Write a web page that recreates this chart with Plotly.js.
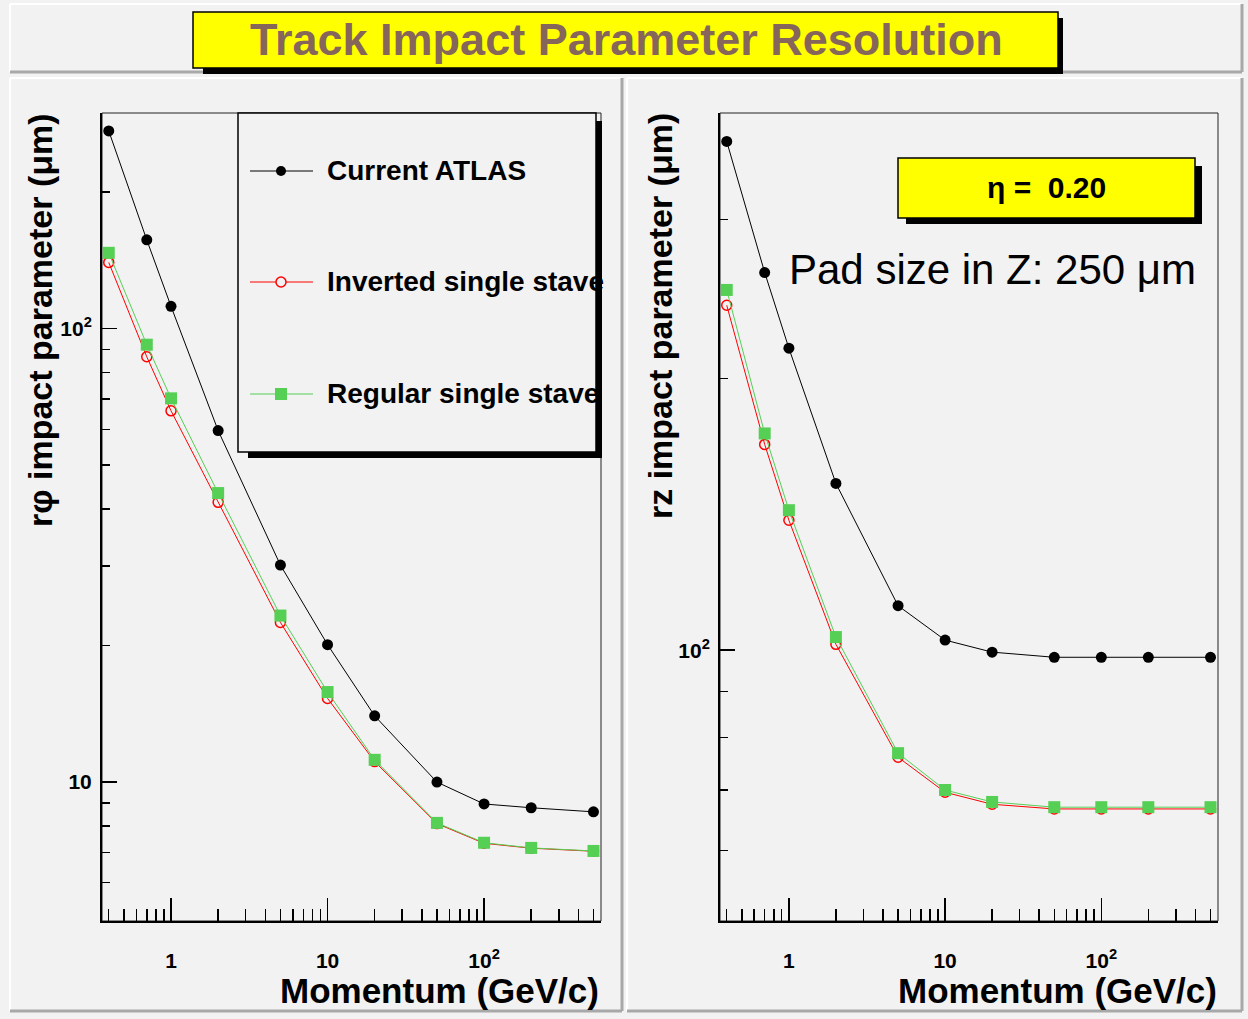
<!DOCTYPE html>
<html>
<head>
<meta charset="utf-8">
<script src="https://cdn.plot.ly/plotly-3.0.1.min.js"></script>
<style>html,body{margin:0;padding:0;background:#f2f2f2;}#chart{width:1248px;height:1019px;}</style>
</head>
<body>
<div id="chart"></div>
<script>
// ---- data ----
const momentum = [0.4, 0.7, 1, 2, 5, 10, 20, 50, 100, 200, 500];
const rphiCurrent  = [273, 157, 112, 59.6, 30.1, 20.1, 14.0, 10.0, 8.95, 8.78, 8.6];
const rphiInverted = [140, 86.7, 65.9, 41.4, 22.5, 15.3, 11.1, 8.1, 7.33, 7.15, 7.04];
const rphiRegular  = [147, 92.2, 70.2, 43.4, 23.3, 15.8, 11.2, 8.13, 7.35, 7.16, 7.05];
const rzCurrent  = [366, 262, 216, 153, 112, 102.6, 99.5, 98.2, 98.2, 98.2, 98.2];
const rzInverted = [241, 169, 139.3, 101.5, 76.1, 69.6, 67.5, 66.7, 66.7, 66.7, 66.7];
const rzRegular  = [250.6, 173.8, 142.9, 103.4, 76.9, 70.0, 67.9, 67.0, 67.0, 67.0, 67.0];
const seriesNames = ["Current ATLAS", "Inverted single stave", "Regular single stave"];
const xTickVals = [1, 10, 100];
const xTickText = ["1", "10", "10<sup>2</sup>"];
const xMinorVals = [0.4,0.5,0.6,0.7,0.8,0.9,2,3,4,5,6,7,8,9,20,30,40,50,60,70,80,90,200,300,400,500];
const yLeftTickVals = [10, 100];
const yLeftTickText = ["10", "10<sup>2</sup>"];
const yLeftMinor = [6,7,8,9,20,30,40,50,60,70,80,90,200];
const yRightTickVals = [100];
const yRightTickText = ["10<sup>2</sup>"];
const yRightMinor = [60,70,80,90,200,300];

// ---- helpers ----
const W = 1248, H = 1019;
const px = x => x / W;
const py = y => 1 - y / H;
const FONT = "Liberation Sans, Arial, Helvetica, sans-serif";

const styles = [
  {line:{color:'black', width:1}, marker:{symbol:'circle', size:11, color:'black'}},
  {line:{color:'#ff0000', width:1}, marker:{symbol:'circle-open', size:10, color:'#ff0000', line:{width:1.5}}},
  {line:{color:'#55d055', width:1}, marker:{symbol:'square', size:12, color:'#55d055'}}
];
function tr(y, i, xa, ya) {
  return {x: momentum, y: y, type:'scatter', mode:'lines+markers', name: seriesNames[i],
          xaxis: xa, yaxis: ya, line: styles[i].line, marker: styles[i].marker, showlegend:false, cliponaxis:false};
}
const data = [
  tr(rphiCurrent, 0, 'x', 'y'), tr(rphiInverted, 1, 'x', 'y'), tr(rphiRegular, 2, 'x', 'y'),
  tr(rzCurrent, 0, 'x2', 'y2'), tr(rzInverted, 1, 'x2', 'y2'), tr(rzRegular, 2, 'x2', 'y2')
];

function xax(d0, d1, anchor) {
  return {type:'log', domain:[px(d0), px(d1)], range:[-0.441, 2.747], anchor: anchor,
    tickmode:'array', tickvals: xTickVals, ticktext: xTickText,
    ticks:'inside', ticklen:23, tickwidth:1.5, tickcolor:'black',
    minor:{tickmode:'array', tickvals: xMinorVals, ticks:'inside', ticklen:12, tickwidth:1.5, tickcolor:'black', showgrid:false},
    ticklabelstandoff: 20,
    tickfont:{family:FONT, size:21, color:'black', weight:'bold'},
    showgrid:false, zeroline:false, showline:true, linecolor:'black', linewidth:2, fixedrange:true};
}
function yax(anchor, range, tv, tt, minor) {
  return {type:'log', domain:[py(921), py(113)], range: range, anchor: anchor,
    tickmode:'array', tickvals: tv, ticktext: tt,
    ticks:'inside', ticklen:15, tickwidth:1.5, tickcolor:'black',
    minor:{tickmode:'array', tickvals: minor, ticks:'inside', ticklen:8, tickwidth:1.5, tickcolor:'black', showgrid:false},
    ticklabelstandoff: 4,
    tickfont:{family:FONT, size:21, color:'black', weight:'bold'},
    showgrid:false, zeroline:false, showline:true, linecolor:'black', linewidth:2, fixedrange:true};
}

const shapes = [];
function rect(x0, y0, x1, y1, fill, lc, lw, layer) {
  shapes.push({type:'rect', xref:'paper', yref:'paper', x0:px(x0), x1:px(x1), y0:py(y0), y1:py(y1),
    fillcolor: fill, line:{color: lc, width: lw}, layer: layer || 'above'});
}
function line(x0, y0, x1, y1, c, w, layer) {
  shapes.push({type:'line', xref:'paper', yref:'paper', x0:px(x0), x1:px(x1), y0:py(y0), y1:py(y1),
    line:{color:c, width:w}, layer: layer || 'above'});
}
// pad bevels
function pad(x0, y0, x1, y1) {
  line(x0, y0, x1, y0, '#ffffff', 2, 'below');
  line(x0, y0, x0, y1, '#ffffff', 2, 'below');
  line(x0, y1, x1, y1, '#a8a8a8', 3, 'below');
  line(x1, y0, x1, y1, '#a8a8a8', 3, 'below');
}
pad(10, 4, 1242, 72);
pad(10, 78, 622, 1011);
pad(627, 78, 1242, 1011);
// frames top/right thin lines
rect(102, 113, 601, 921, 'rgba(0,0,0,0)', '#222', 1, 'below');
rect(720, 113, 1218, 921, 'rgba(0,0,0,0)', '#222', 1, 'below');
// title box
rect(203, 18, 1063, 74, 'black', 'black', 0);
rect(193, 12, 1058, 68, '#ffff00', 'black', 1.5);
// legend box
rect(248, 121, 602, 458, 'black', 'black', 0);
rect(238, 113, 596, 452, '#f2f2f2', 'black', 1.5);
// eta box
rect(906, 166, 1202, 224, 'black', 'black', 0);
rect(898, 158, 1195, 218, '#ffff00', 'black', 1.5);
// legend samples
const legY = [171, 282, 394];
const legCol = ['black', '#ff0000', '#55d055'];
for (let i = 0; i < 3; i++) {
  line(250, legY[i], 313, legY[i], legCol[i], 1);
  if (i === 2) {
    shapes.push({type:'rect', xref:'paper', yref:'paper', xsizemode:'pixel', ysizemode:'pixel',
      xanchor:px(281), yanchor:py(legY[i]), x0:-6, x1:6, y0:-6, y1:6, fillcolor:legCol[i], line:{width:0}});
  } else {
    shapes.push({type:'circle', xref:'paper', yref:'paper', xsizemode:'pixel', ysizemode:'pixel',
      xanchor:px(281), yanchor:py(legY[i]), x0:-5, x1:5, y0:-5, y1:5,
      fillcolor: i === 0 ? 'black' : '#f2f2f2', line:{color:legCol[i], width: i === 0 ? 0 : 1.5}});
  }
}

const annotations = [
  {text:'Track Impact Parameter Resolution', x:px(626), y:py(39), xref:'paper', yref:'paper', showarrow:false,
   xanchor:'center', yanchor:'middle', font:{family:FONT, size:45, color:'#86665a', weight:'bold'}},
  {text:'r\u03c6 impact parameter (\u03bcm)', x:px(40), y:py(112), xref:'paper', yref:'paper', showarrow:false,
   textangle:-90, xanchor:'center', yanchor:'top', borderpad:0, font:{family:FONT, size:34, color:'black', weight:'bold'}},
  {text:'rz impact parameter (\u03bcm)', x:px(660), y:py(112), xref:'paper', yref:'paper', showarrow:false,
   textangle:-90, xanchor:'center', yanchor:'top', borderpad:0, font:{family:FONT, size:34, color:'black', weight:'bold'}},
  {text:'Momentum (GeV/c)', x:px(600), y:py(990), xref:'paper', yref:'paper', showarrow:false, borderpad:0,
   xanchor:'right', yanchor:'middle', font:{family:FONT, size:35, color:'black', weight:'bold'}},
  {text:'Momentum (GeV/c)', x:px(1218), y:py(990), xref:'paper', yref:'paper', showarrow:false, borderpad:0,
   xanchor:'right', yanchor:'middle', font:{family:FONT, size:35, color:'black', weight:'bold'}},
  {text:'\u03b7 =  0.20', x:px(1046), y:py(188), xref:'paper', yref:'paper', showarrow:false,
   xanchor:'center', yanchor:'middle', font:{family:FONT, size:30, color:'black', weight:'bold'}},
  {text:'Pad size in Z: 250 \u03bcm', x:px(787), y:py(269), xref:'paper', yref:'paper', showarrow:false,
   xanchor:'left', yanchor:'middle', font:{family:FONT, size:42, color:'black'}}
];
for (let i = 0; i < 3; i++) {
  annotations.push({text: seriesNames[i], x:px(325), y:py(legY[i]), xref:'paper', yref:'paper', showarrow:false,
    xanchor:'left', yanchor:'middle', font:{family:FONT, size:28, color:'black', weight:'bold'}});
}

const layout = {
  width: W, height: H, margin:{l:0, r:0, t:0, b:0},
  paper_bgcolor:'#f2f2f2', plot_bgcolor:'rgba(0,0,0,0)',
  showlegend:false,
  xaxis: xax(102, 601, 'y'),
  yaxis: yax('x', [Math.log10(4.94), Math.log10(299)], yLeftTickVals, yLeftTickText, yLeftMinor),
  xaxis2: xax(720, 1218, 'y2'),
  yaxis2: yax('x2', [1.7, 2.595], yRightTickVals, yRightTickText, yRightMinor),
  shapes: shapes, annotations: annotations
};
Plotly.newPlot('chart', data, layout, {staticPlot:true, displayModeBar:false});
</script>
</body>
</html>
